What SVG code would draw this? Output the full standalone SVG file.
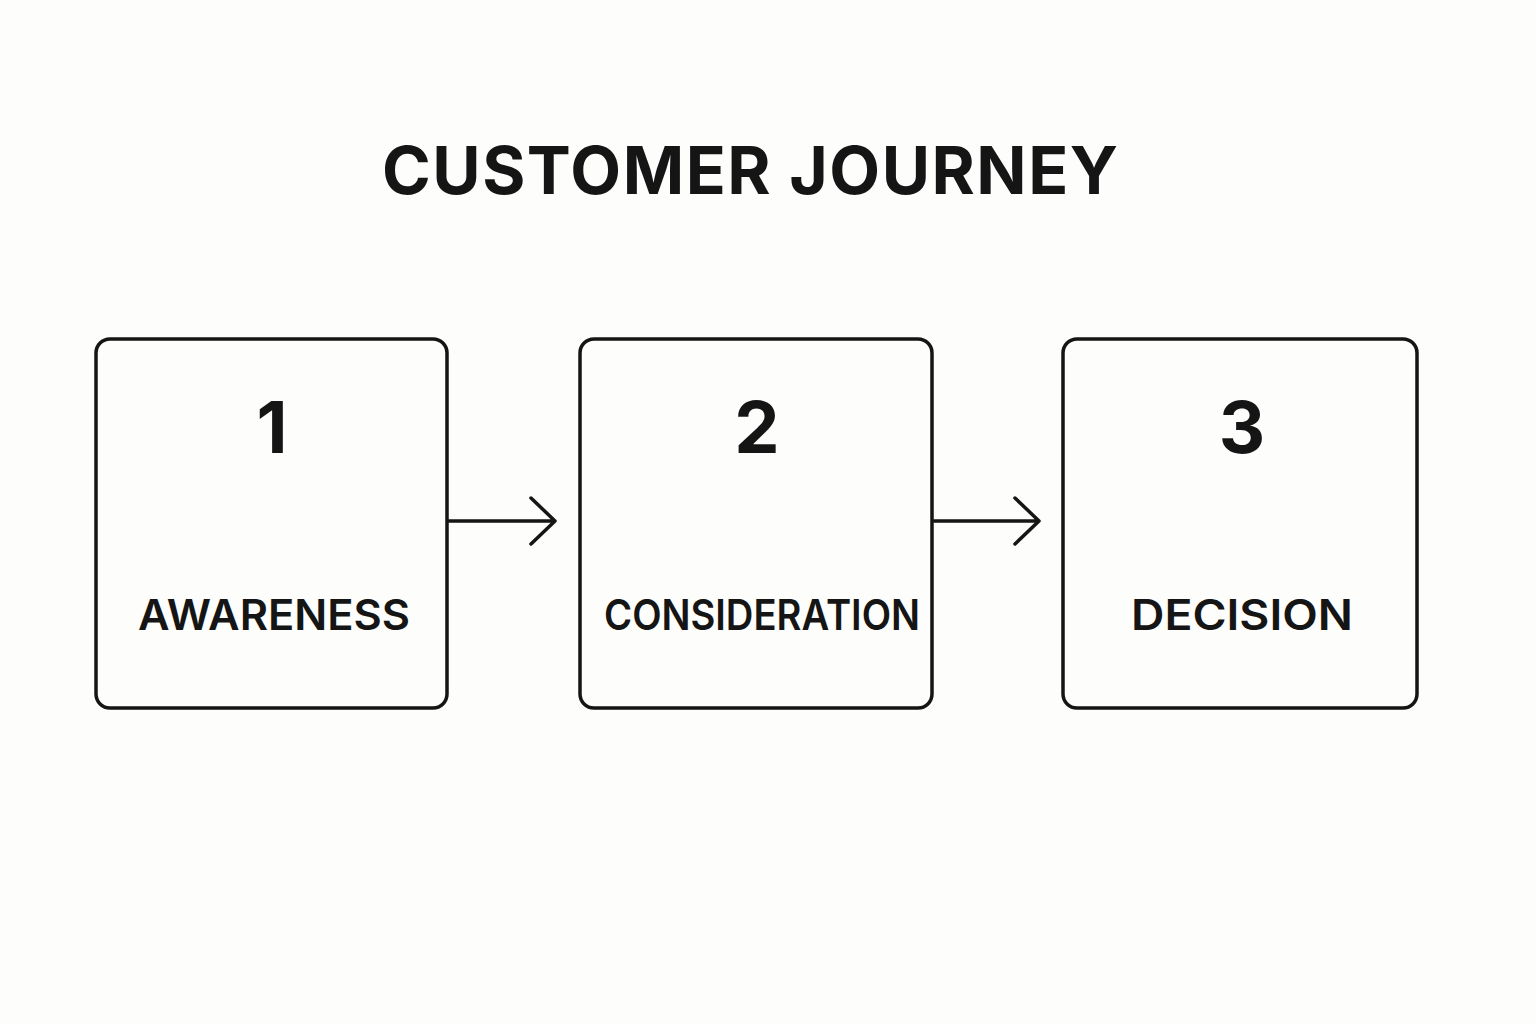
<svg xmlns="http://www.w3.org/2000/svg" width="1536" height="1024" viewBox="0 0 1536 1024">
<defs><style>
.box{fill:#fdfdfb;stroke:#151515;stroke-width:3.5}
.num{font-family:"Inter","Liberation Sans",sans-serif;font-weight:700;font-size:72px;fill:#151515;text-anchor:middle}
.lbl{font-family:"Inter","Liberation Sans",sans-serif;font-weight:600;font-size:42px;fill:#151515;text-anchor:middle}
.c{stroke:#151515;stroke-width:3.5;fill:none;stroke-linecap:round;stroke-linejoin:round}
</style></defs>
<rect width="1536" height="1024" fill="#fdfdfb"/>
<text x="750" y="194" font-family="Inter,'Liberation Sans',sans-serif" font-weight="700" font-size="66" fill="#151515" text-anchor="middle" textLength="736" lengthAdjust="spacing">CUSTOMER JOURNEY</text>
<g id="n1"><rect class="box" x="96" y="339" width="351" height="369" rx="14"/><text class="num" x="272" y="453">1</text><text class="lbl" x="274" y="630" textLength="272" lengthAdjust="spacingAndGlyphs">AWARENESS</text></g>
<g id="n2"><rect class="box" x="580" y="339" width="352" height="369" rx="14"/><text class="num" x="757" y="453">2</text><text class="lbl" x="762" y="630" font-weight="400" textLength="316" lengthAdjust="spacingAndGlyphs">CONSIDERATION</text></g>
<g id="n3"><rect class="box" x="1063" y="339" width="354" height="369" rx="14"/><text class="num" x="1242" y="453">3</text><text class="lbl" x="1242" y="630" textLength="222" lengthAdjust="spacingAndGlyphs">DECISION</text></g>
<g id="connectors">
<path class="c" d="M449 521H555M531 498L555 521L531 544"/>
<path class="c" d="M934 521H1039M1015 498L1039 521L1015 544"/>
</g>
</svg>
